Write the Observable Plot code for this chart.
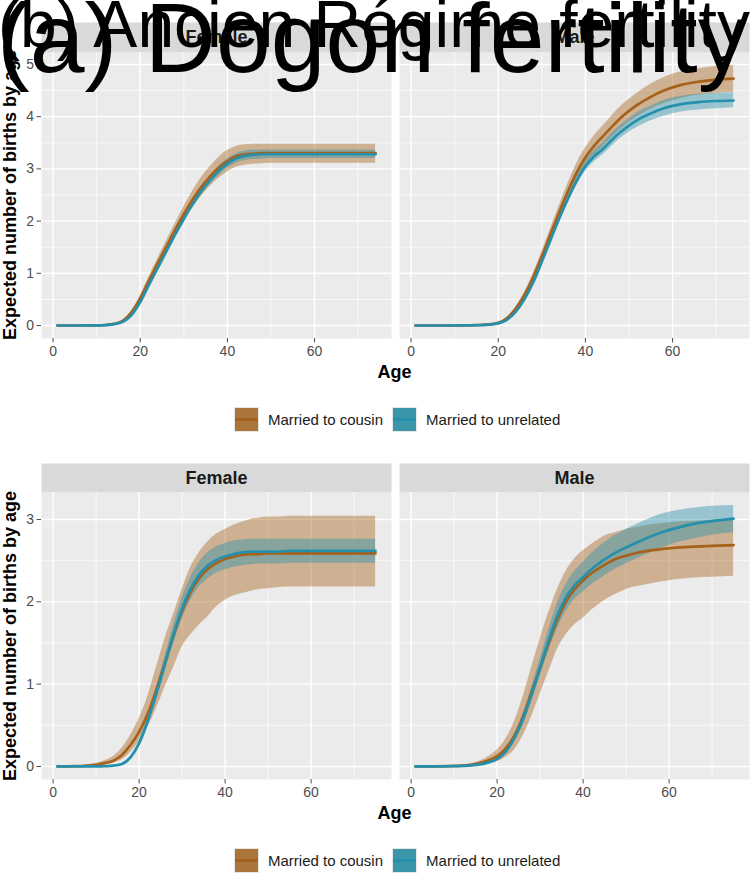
<!DOCTYPE html>
<html>
<head>
<meta charset="utf-8">
<script src="https://cdn.jsdelivr.net/npm/d3@7"></script>
<script src="https://cdn.jsdelivr.net/npm/@observablehq/plot@0.6"></script>
<style>
  body { margin: 0; background: white; }
  #root { position: relative; width: 750px; height: 876px; overflow: hidden; background: white; font-family: "Liberation Sans", Arial, Helvetica, sans-serif; }
  .half { position: absolute; left: 0; width: 750px; height: 441px; }
  .ytitle { position: absolute; left: 10px; white-space: nowrap; font-weight: bold; font-size: 18px; color: #000; transform: translate(-50%, -50%) rotate(-90deg); }
  .xtitle { position: absolute; left: 394.5px; top: 372px; font-weight: bold; font-size: 18px; color: #000; transform: translate(-50%, -50%); }
  .legend { position: absolute; left: 234px; top: 407px; display: flex; align-items: center; font-size: 15px; color: #1a1a1a; }
  .key { width: 25px; height: 25px; position: relative; margin-right: 9px; box-sizing: border-box; border: 1px solid #e6e6e6; }
  .key .ln { position: absolute; left: 0; right: 0; top: 10px; height: 3px; }
  .lab { margin-right: 9px; }
  #titles { position: absolute; left: 0; top: 0; pointer-events: none; }
</style>
</head>
<body>
<div id="root"></div>
<script>
// ---------- categories ----------
const facets = ["Female", "Male"];
const groups = ["Married to cousin", "Married to unrelated"];
const groupColors = ["#A6611A", "#2590AC"];
const keyFill = ["#A9753A", "#3B96AA"];
const titleA = "(a) Dogon fertility";
const titleB = "(b) Ancien Régime fertility";
const yLabel = "Expected number of births by age";
const xLabel = "Age";

// ---------- top figure ----------
const topAges = [1,5,10,12,14,16,18,20,22,24,26,28,30,32,34,36,38,40,42,44,46,48,50,52,55,58,62,66,70,74];
const topXTicks = [0,20,40,60];
const topXMinor = [10,30,50,70];
const topYTicks = [0,1,2,3,4,5];
const topYMinor = [0.5,1.5,2.5,3.5,4.5];

const topFemaleUnrelMean = [0,0,0.003,0.008,0.025,0.07,0.2,0.45,0.78,1.1,1.42,1.74,2.04,2.32,2.57,2.78,2.96,3.1,3.2,3.25,3.27,3.28,3.28,3.28,3.28,3.28,3.28,3.28,3.28,3.28];
const topFemaleUnrelLo   = [0,0,0.003,0.007,0.023,0.066,0.19,0.43,0.75,1.06,1.37,1.68,1.98,2.25,2.49,2.7,2.87,3.01,3.11,3.16,3.18,3.19,3.2,3.2,3.2,3.2,3.2,3.2,3.2,3.2];
const topFemaleUnrelHi   = [0,0,0.003,0.009,0.027,0.074,0.21,0.47,0.81,1.14,1.47,1.8,2.1,2.39,2.65,2.86,3.05,3.19,3.29,3.34,3.36,3.36,3.36,3.36,3.36,3.36,3.36,3.36,3.36,3.36];
const topFemaleCousinMean = [0,0,0.004,0.01,0.03,0.09,0.25,0.52,0.86,1.19,1.51,1.83,2.13,2.41,2.65,2.85,3.02,3.15,3.24,3.28,3.29,3.3,3.3,3.3,3.3,3.3,3.3,3.3,3.3,3.3];
const topFemaleCousinLo   = [0,0,0.003,0.008,0.026,0.08,0.22,0.47,0.79,1.1,1.41,1.71,1.99,2.25,2.47,2.66,2.82,2.94,3.03,3.07,3.09,3.1,3.11,3.11,3.11,3.11,3.11,3.11,3.11,3.11];
const topFemaleCousinHi   = [0,0,0.005,0.012,0.035,0.1,0.28,0.57,0.93,1.28,1.62,1.95,2.27,2.57,2.83,3.04,3.22,3.35,3.43,3.46,3.47,3.47,3.47,3.47,3.47,3.47,3.47,3.47,3.47,3.47];

const topMaleUnrelMean = [0,0,0,0.002,0.004,0.008,0.018,0.04,0.11,0.26,0.5,0.82,1.22,1.64,2.05,2.43,2.77,3.05,3.24,3.38,3.55,3.7,3.83,3.94,4.06,4.16,4.24,4.28,4.3,4.31];
const topMaleUnrelLo   = [0,0,0,0.002,0.004,0.007,0.016,0.036,0.1,0.24,0.47,0.78,1.17,1.58,1.98,2.35,2.68,2.95,3.13,3.27,3.43,3.58,3.7,3.8,3.92,4.01,4.09,4.13,4.15,4.17];
const topMaleUnrelHi   = [0,0,0,0.002,0.005,0.009,0.02,0.044,0.12,0.28,0.53,0.86,1.27,1.7,2.12,2.51,2.86,3.15,3.35,3.5,3.68,3.83,3.96,4.08,4.2,4.31,4.39,4.43,4.45,4.46];
const topMaleCousinMean = [0,0,0,0.002,0.005,0.01,0.022,0.05,0.14,0.32,0.58,0.92,1.32,1.75,2.17,2.57,2.93,3.22,3.44,3.62,3.8,3.97,4.11,4.23,4.38,4.5,4.61,4.67,4.71,4.73];
const topMaleCousinLo   = [0,0,0,0.002,0.004,0.009,0.019,0.044,0.12,0.29,0.53,0.85,1.23,1.64,2.04,2.42,2.76,3.04,3.25,3.42,3.59,3.75,3.89,4.0,4.14,4.25,4.35,4.41,4.45,4.47];
const topMaleCousinHi   = [0,0,0,0.002,0.006,0.011,0.025,0.056,0.16,0.35,0.63,0.99,1.41,1.86,2.3,2.72,3.1,3.4,3.63,3.82,4.01,4.19,4.33,4.46,4.62,4.75,4.86,4.92,4.96,4.98];

// ---------- bottom figure ----------
const botAges = [1,5,10,12,14,16,18,20,22,24,26,28,30,32,34,36,38,40,42,44,46,48,50,52,55,58,62,66,70,75];
const botXTicks = [0,20,40,60];
const botXMinor = [10,30,50,70];
const botYTicks = [0,1,2,3];
const botYMinor = [0.5,1.5,2.5];

const botFemaleUnrelMean = [0,0,0.001,0.004,0.01,0.03,0.11,0.28,0.55,0.88,1.24,1.6,1.92,2.16,2.33,2.44,2.51,2.55,2.58,2.6,2.61,2.61,2.61,2.61,2.62,2.62,2.62,2.62,2.62,2.62];
const botFemaleUnrelLo   = [0,0,0.001,0.003,0.009,0.027,0.1,0.25,0.5,0.81,1.15,1.49,1.79,2.02,2.18,2.28,2.35,2.39,2.42,2.44,2.45,2.46,2.46,2.46,2.47,2.47,2.47,2.47,2.47,2.47];
const botFemaleUnrelHi   = [0,0,0.001,0.005,0.011,0.033,0.12,0.31,0.6,0.95,1.33,1.71,2.05,2.3,2.48,2.6,2.67,2.71,2.74,2.75,2.76,2.76,2.76,2.76,2.76,2.76,2.76,2.76,2.76,2.76];
const botFemaleCousinMean = [0,0.003,0.02,0.04,0.07,0.14,0.26,0.42,0.64,0.93,1.26,1.59,1.89,2.12,2.29,2.4,2.47,2.52,2.55,2.57,2.58,2.58,2.59,2.59,2.59,2.59,2.59,2.59,2.59,2.59];
const botFemaleCousinLo   = [0,0.001,0.008,0.02,0.04,0.08,0.17,0.3,0.47,0.7,0.96,1.2,1.45,1.6,1.72,1.82,1.94,2.02,2.07,2.1,2.13,2.15,2.16,2.17,2.18,2.18,2.18,2.18,2.18,2.18];
const botFemaleCousinHi   = [0,0.006,0.04,0.07,0.12,0.22,0.38,0.58,0.85,1.2,1.55,1.85,2.15,2.42,2.6,2.73,2.82,2.88,2.93,2.97,3.0,3.02,3.03,3.03,3.04,3.04,3.04,3.04,3.04,3.04];

const botMaleUnrelMean = [0,0,0.003,0.006,0.012,0.025,0.05,0.09,0.18,0.34,0.57,0.87,1.2,1.53,1.83,2.05,2.2,2.3,2.4,2.48,2.55,2.61,2.66,2.71,2.78,2.84,2.9,2.95,2.98,3.01];
const botMaleUnrelLo   = [0,0,0.002,0.005,0.01,0.02,0.04,0.075,0.15,0.29,0.5,0.78,1.09,1.4,1.67,1.88,2.03,2.12,2.21,2.28,2.35,2.41,2.46,2.51,2.58,2.65,2.72,2.77,2.81,2.84];
const botMaleUnrelHi   = [0,0,0.004,0.007,0.014,0.03,0.06,0.105,0.21,0.39,0.64,0.96,1.31,1.66,1.98,2.21,2.37,2.48,2.59,2.68,2.76,2.82,2.88,2.93,3.0,3.06,3.11,3.14,3.16,3.17];
const botMaleCousinMean = [0,0.001,0.006,0.01,0.02,0.04,0.075,0.125,0.22,0.37,0.6,0.9,1.2,1.5,1.78,2.0,2.15,2.26,2.35,2.42,2.48,2.53,2.56,2.59,2.62,2.64,2.66,2.67,2.68,2.69];
const botMaleCousinLo   = [0,0,0.002,0.004,0.008,0.018,0.035,0.06,0.11,0.2,0.37,0.6,0.88,1.15,1.42,1.6,1.72,1.8,1.9,1.98,2.05,2.1,2.15,2.18,2.21,2.24,2.27,2.29,2.3,2.31];
const botMaleCousinHi   = [0,0.002,0.012,0.02,0.035,0.065,0.12,0.2,0.33,0.54,0.84,1.2,1.55,1.87,2.15,2.37,2.52,2.62,2.7,2.77,2.82,2.85,2.88,2.9,2.93,2.95,2.97,2.98,2.99,3.0];

// ---------- build rows ----------
function rows(ages, sex, group, mean, lo, hi) {
  return ages.map((a, i) => ({age: a, sex, group, mean: mean[i], lo: lo[i], hi: hi[i]}));
}
const topData = [
  ...rows(topAges, "Female", groups[0], topFemaleCousinMean, topFemaleCousinLo, topFemaleCousinHi),
  ...rows(topAges, "Female", groups[1], topFemaleUnrelMean, topFemaleUnrelLo, topFemaleUnrelHi),
  ...rows(topAges, "Male", groups[0], topMaleCousinMean, topMaleCousinLo, topMaleCousinHi),
  ...rows(topAges, "Male", groups[1], topMaleUnrelMean, topMaleUnrelLo, topMaleUnrelHi)
];
const botData = [
  ...rows(botAges, "Female", groups[0], botFemaleCousinMean, botFemaleCousinLo, botFemaleCousinHi),
  ...rows(botAges, "Female", groups[1], botFemaleUnrelMean, botFemaleUnrelLo, botFemaleUnrelHi),
  ...rows(botAges, "Male", groups[0], botMaleCousinMean, botMaleCousinLo, botMaleCousinHi),
  ...rows(botAges, "Male", groups[1], botMaleUnrelMean, botMaleUnrelLo, botMaleUnrelHi)
];

function extent(arr) { return [d3.min(arr), d3.max(arr)]; }
function expand([a, b]) { const p = (b - a) * 0.05; return [a - p, b + p]; }

function makeChart(data, opts) {
  const stripH = opts.stripH;
  const xDom = expand(extent(data.map(d => d.age)));
  const yDom = expand([0, d3.max(data, d => d.hi)]);
  const chart = Plot.plot({
    width: 750,
    height: 390,
    marginLeft: 40,
    marginRight: 1,
    marginTop: opts.marginTop,
    marginBottom: 52,
    style: {fontFamily: "'Liberation Sans', Arial, Helvetica, sans-serif", fontSize: "14px", background: "transparent", overflow: "visible"},
    fx: {domain: facets, paddingInner: 0.0225, paddingOuter: 0, axis: null, label: null},
    x: {domain: xDom},
    y: {domain: yDom},
    color: {domain: groups, range: groupColors},
    marks: [
      Plot.frame({fill: "#EBEBEB"}),
      Plot.frame({fill: "#D9D9D9", ariaLabel: "strip"}),
      Plot.gridX(opts.xMinor, {stroke: "white", strokeOpacity: 1, strokeWidth: 0.7}),
      Plot.gridY(opts.yMinor, {stroke: "white", strokeOpacity: 1, strokeWidth: 0.7}),
      Plot.gridX(opts.xTicks, {stroke: "white", strokeOpacity: 1, strokeWidth: 1.4}),
      Plot.gridY(opts.yTicks, {stroke: "white", strokeOpacity: 1, strokeWidth: 1.4}),
      Plot.areaY(data, {x: "age", y1: "lo", y2: "hi", fx: "sex", z: "group", fill: "group", fillOpacity: 0.42, curve: "monotone-x"}),
      Plot.lineY(data, {x: "age", y: "mean", fx: "sex", z: "group", stroke: "group", strokeWidth: 2.7, curve: "monotone-x"}),
      Plot.text(facets, {fx: d => d, text: d => d, frameAnchor: "top", dy: -stripH / 2, lineAnchor: "middle", fontSize: 18, fontWeight: "bold", fill: "#1a1a1a"}),
      Plot.axisX(opts.xTicks, {tickSize: 4.5, tickPadding: 3, fontSize: 14, color: "#4d4d4d", label: null}),
      Plot.axisY(opts.yTicks, {tickSize: 4.5, tickPadding: 3, fontSize: 14, color: "#4d4d4d", label: null, tickFormat: d => String(d)})
    ]
  });
  chart.querySelectorAll('[aria-label="strip"]').forEach(el => {
    const rects = el.tagName.toLowerCase() === "rect" ? [el] : el.querySelectorAll("rect");
    rects.forEach(r => {
      const y = +r.getAttribute("y");
      r.setAttribute("y", y - stripH);
      r.setAttribute("height", stripH);
    });
  });
  return chart;
}

function makeHalf(top, data, opts) {
  const half = document.createElement("div");
  half.className = "half";
  half.style.top = top + "px";
  half.appendChild(makeChart(data, opts));
  const yt = document.createElement("div");
  yt.className = "ytitle";
  yt.style.top = opts.yCenter + "px";
  yt.textContent = yLabel;
  half.appendChild(yt);
  const xt = document.createElement("div");
  xt.className = "xtitle";
  xt.textContent = xLabel;
  half.appendChild(xt);
  const lg = document.createElement("div");
  lg.className = "legend";
  groups.forEach((g, i) => {
    const k = document.createElement("div");
    k.className = "key";
    k.style.background = keyFill[i];
    const ln = document.createElement("div");
    ln.className = "ln";
    ln.style.background = groupColors[i];
    k.appendChild(ln);
    lg.appendChild(k);
    const t = document.createElement("span");
    t.className = "lab";
    t.textContent = g;
    lg.appendChild(t);
  });
  half.appendChild(lg);
  return half;
}

const root = document.getElementById("root");
root.appendChild(makeHalf(0, topData, {marginTop: 52, stripH: 30, xTicks: topXTicks, xMinor: topXMinor, yTicks: topYTicks, yMinor: topYMinor, yCenter: 195}));
root.appendChild(makeHalf(441, botData, {marginTop: 51, stripH: 29, xTicks: botXTicks, xMinor: botXMinor, yTicks: botYTicks, yMinor: botYMinor, yCenter: 195}));

// overlapping titles
const ns = "http://www.w3.org/2000/svg";
const tsvg = document.createElementNS(ns, "svg");
tsvg.setAttribute("id", "titles");
tsvg.setAttribute("width", 750);
tsvg.setAttribute("height", 110);
[[titleB, 66, 47, -2], [titleA, 98.5, 72, -3]].forEach(([txt, fs, y, x]) => {
  const t = document.createElementNS(ns, "text");
  t.setAttribute("x", x);
  t.setAttribute("y", y);
  t.setAttribute("font-size", fs);
  t.setAttribute("font-family", "'Liberation Sans', Arial, Helvetica, sans-serif");
  t.setAttribute("fill", "#000");
  t.textContent = txt;
  tsvg.appendChild(t);
});
root.appendChild(tsvg);
</script>
</body>
</html>
